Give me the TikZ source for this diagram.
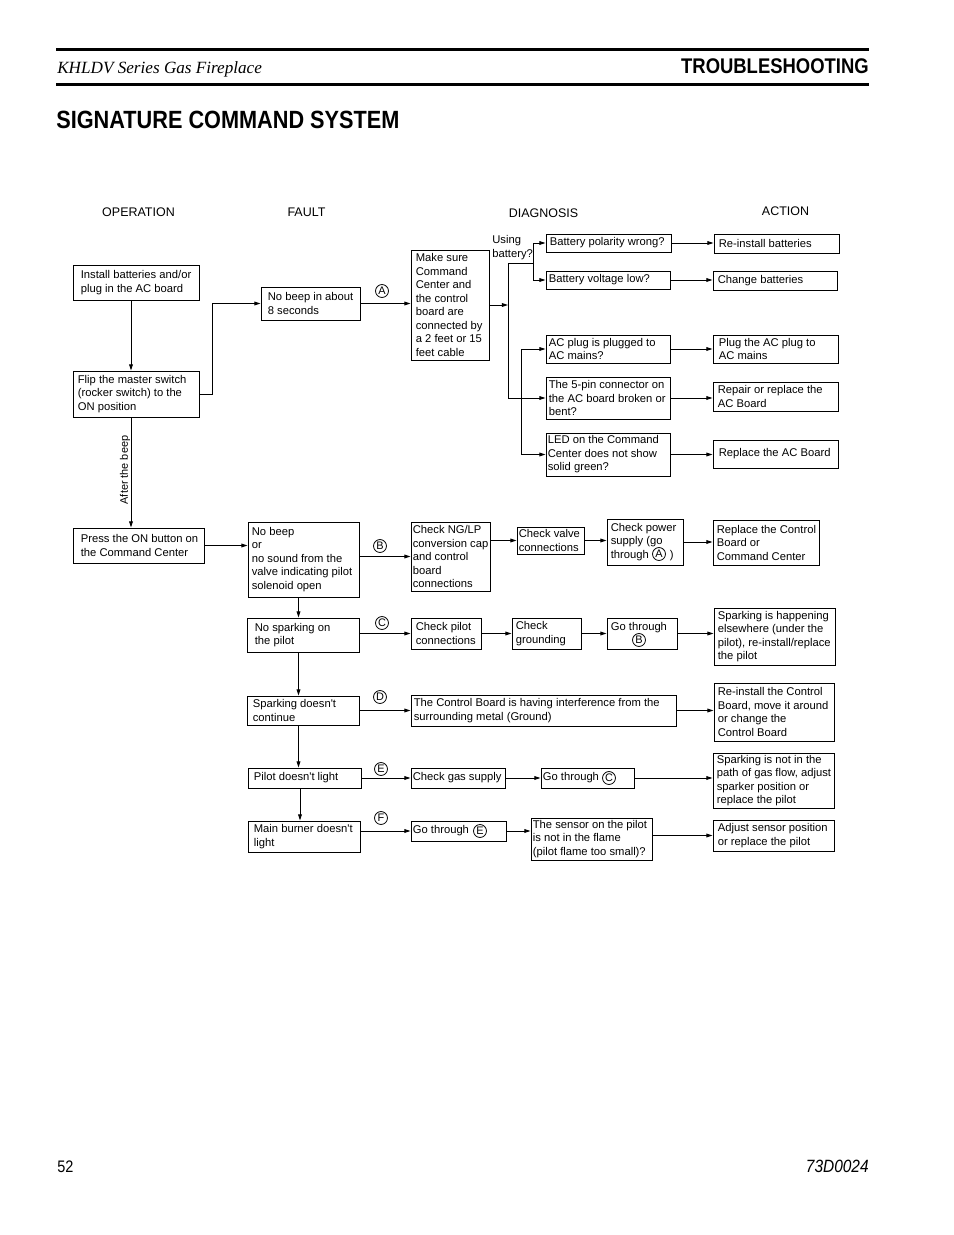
\documentclass[tikz,border=0pt]{standalone}
\usepackage{fontspec}
\newfontfamily\lsans{Liberation Sans}
\newfontfamily\lserif{Liberation Serif}
\newfontfamily\lcond[FakeStretch=0.87]{Liberation Sans}
\usetikzlibrary{arrows.meta,calc}
\def\pxu{0.6415}
\tikzset{
 bx/.style={draw, line width=0.6pt, inner sep=0pt, rectangle},
 tx/.style={inner sep=0pt, align=left, font=\lsans\fontsize{7.2}{8.66}\selectfont},
 arr/.style={line width=0.6pt, -{Triangle[length=4pt,width=2.4pt]}},
 ln/.style={line width=0.6pt},
 cl/.style={draw, circle, line width=0.5pt, inner sep=0pt, minimum size=8.3pt, font=\lsans\fontsize{7}{8}\selectfont},
 hd/.style={inner sep=0pt, font=\lsans\fontsize{8}{9.6}\selectfont},
}
\newcommand\mybox[7]{%
 \pgfmathsetmacro\bw{(#4-#2)*\pxu}%
 \pgfmathsetmacro\bh{(#5-#3)*\pxu}%
 \pgfmathsetmacro\bi{#6*\pxu}%
 \node[bx, minimum width=\bw pt, minimum height=\bh pt] (#1) at ({(#2+#4)/2},{(#3+#5)/2}) {};
 \node[tx, anchor=west] (#1-t) at ([xshift=\bi pt]#1.west) {#7};}
\begin{document}
\begin{tikzpicture}[x=0.6415pt,y=-0.6415pt]
\useasboundingbox (0,0) rectangle (954,1235);
\fill[white] (0,0) rectangle (954,1235);
% header
\draw[line width=2.2pt] (56,49.5) -- (869,49.5);
\node[anchor=base west, inner sep=0pt, font=\lserif\itshape\fontsize{11}{13}\selectfont] (hdl) at (57,73) {KHLDV Series Gas Fireplace};
\node[anchor=base east, inner sep=0pt, font=\lcond\bfseries\fontsize{13.6}{16}\selectfont] (hdr) at (869,73) {TROUBLESHOOTING};
\draw[line width=2pt] (56,84.5) -- (869,84.5);
\node[anchor=base west, inner sep=0pt, font=\lcond\bfseries\fontsize{16}{19}\selectfont] (title) at (56,128) {SIGNATURE COMMAND SYSTEM};
\node[anchor=base west, inner sep=0pt, font=\lcond\fontsize{10.7}{12}\selectfont] (pg) at (57,1172) {52};
\node[anchor=base east, inner sep=0pt, font=\lcond\itshape\fontsize{11.4}{13}\selectfont] (doc) at (869,1172) {73D0024};
% column heads
\node[hd] (hop) at (138.5,212) {OPERATION};
\node[hd] (hfa) at (306.5,212) {FAULT};
\node[hd] (hdi) at (543.5,213) {DIAGNOSIS};
\node[hd] (hac) at (785.5,211) {ACTION};
% boxes
\mybox{install}{73}{265}{199}{300}{8}{Install batteries and/or\\plug in the AC board}
\mybox{flip}{73}{371}{199}{417}{5}{Flip the master switch\\(rocker switch) to the\\ON position}
\mybox{press}{73}{528}{204}{563}{8}{Press the ON button on\\the Command Center}
\mybox{nobeep}{261}{287}{360}{320}{7}{No beep in about\\8 seconds}
\mybox{mk}{411}{250}{489}{360}{5}{Make sure\\Command\\Center and\\the control\\board are\\connected by\\a 2 feet or 15\\feet cable}
\mybox{pol}{546}{234}{671}{252}{4}{Battery polarity wrong?}
\mybox{volt}{546}{271}{670}{289}{3}{Battery voltage low?}
\mybox{acplug}{546}{335}{670}{363}{3}{AC plug is plugged to\\AC mains?}
\mybox{fivepin}{546}{377}{670}{419}{3}{The 5-pin connector on\\the AC board broken or\\bent?}
\mybox{led}{546}{433}{670}{476}{2}{LED on the Command\\Center does not show\\solid green?}
\mybox{reinst}{714}{234}{839}{253}{5}{Re-install batteries}
\mybox{change}{713}{271}{837}{290}{5}{Change batteries}
\mybox{plugac}{713}{335}{838}{363}{6}{Plug the AC plug to\\AC mains}
\mybox{repair}{713}{382}{838}{411}{5}{Repair or replace the\\AC Board}
\mybox{replAC}{713}{440}{838}{468}{6}{Replace the AC Board}
\mybox{nbtwo}{248}{522}{359}{597}{4}{No beep\\or\\no sound from the\\valve indicating pilot\\solenoid open}
\mybox{ng}{411}{522}{490}{591}{2}{Check NG/LP\\conversion cap\\and control\\board\\connections}
\mybox{valve}{517}{527}{584}{554}{2}{Check valve\\connections}
\mybox{power}{607}{519}{683}{565}{4}{Check power\\supply (go\\through\hspace{13.5pt})}
\mybox{replCtrl}{713}{520}{819}{565}{4}{Replace the Control\\Board or\\Command Center}
\mybox{nosp}{247}{618}{359}{652}{8}{No sparking on\\the pilot}
\mybox{pilotc}{411}{618}{481}{649}{5}{Check pilot\\connections}
\mybox{ground}{512}{618}{581}{649}{4}{Check\\grounding}
\mybox{goB}{607}{618}{677}{649}{4}{Go through\\\mbox{}}
\mybox{sparkH}{714}{608}{835}{665}{4}{Sparking is happening\\elsewhere (under the\\pilot), re-install/replace\\the pilot}
\mybox{spark}{247}{696}{359}{725}{6}{Sparking doesn't\\continue}
\mybox{dbox}{411}{695}{676}{726}{3}{The Control Board is having interference from the\\surrounding metal (Ground)}
\mybox{reinstC}{714}{683}{834}{741}{4}{Re-install the Control\\Board, move it around\\or change the\\Control Board}
\mybox{pilot}{248}{768}{361}{788}{6}{Pilot doesn't light}
\mybox{gas}{411}{768}{505}{788}{2}{Check gas supply}
\mybox{goC}{541}{768}{634}{788}{2}{Go through}
\mybox{sparkNot}{713}{753}{834}{808}{4}{Sparking is not in the\\path of gas flow, adjust\\sparker position or\\replace the pilot}
\mybox{main}{248}{821}{360}{852}{6}{Main burner doesn't\\light}
\mybox{goE}{411}{821}{506}{841}{2}{Go through}
\mybox{sensor}{531}{818}{652}{860}{2}{The sensor on the pilot\\is not in the flame\\(pilot flame too small)?}
\mybox{adjust}{713}{820}{834}{851}{5}{Adjust sensor position\\or replace the pilot}
% labels
\node[tx, anchor=west] (ub) at (492,247.5) {Using\\battery?};
\node[tx, rotate=90, font=\lsans\fontsize{7}{8}\selectfont] (ab) at (125,470) {After the beep};
\node[cl] (cA) at (382,291) {A};
\node[cl] (cB) at (380,546) {B};
\node[cl] (cC) at (382,623) {C};
\node[cl] (cD) at (380,697) {D};
\node[cl] (cE) at (381,769) {E};
\node[cl] (cF) at (381,818) {F};
\node[cl] (cAtwo) at (659,554) {A};
\node[cl] (cBtwo) at (639,640) {B};
\node[cl] (cCtwo) at (609,778) {C};
\node[cl] (cEtwo) at (480,831) {E};
% connectors
\coordinate (c1) at (131,0);
\coordinate (c2) at (298.5,0);
\coordinate (c3) at (300,0);
\coordinate (b1) at (508,263);
\coordinate (v1) at (533,0);
\coordinate (v2) at (521,0);
\draw[arr] (install.south -| c1) -- (flip.north -| c1);
\draw[arr] (flip.south -| c1) -- (press.north -| c1);
\draw[arr] (flip.east) -- ++(13,0) |- (nobeep.west);
\draw[arr] (nobeep.east) -- (mk.west |- nobeep.east);
\draw[arr] (mk.east) -- (mk.east -| b1);
\draw[ln] (b1) -- (b1 |- fivepin.west);
\draw[arr] (b1 |- fivepin.west) -- (fivepin.west);
\draw[ln] (b1) -- (b1 -| v1);
\draw[ln] (pol.west -| v1) -- (volt.west -| v1);
\draw[arr] (pol.west -| v1) -- (pol.west);
\draw[arr] (volt.west -| v1) -- (volt.west);
\draw[ln] (acplug.west -| v2) -- (led.west -| v2);
\draw[arr] (acplug.west -| v2) -- (acplug.west);
\draw[arr] (led.west -| v2) -- (led.west);
\draw[arr] (pol.east) -- (reinst.west |- pol.east);
\draw[arr] (volt.east) -- (change.west |- volt.east);
\draw[arr] (acplug.east) -- (plugac.west |- acplug.east);
\draw[arr] (fivepin.east) -- (repair.west |- fivepin.east);
\draw[arr] (led.east) -- (replAC.west |- led.east);
\draw[arr] (press.east) -- (nbtwo.west |- press.east);
\draw[arr] (nbtwo.east |- ng.west) -- (ng.west);
\draw[arr] (ng.east |- valve.west) -- (valve.west);
\draw[arr] (valve.east) -- (power.west |- valve.east);
\draw[arr] (power.east) -- (replCtrl.west |- power.east);
\draw[arr] (nbtwo.south -| c2) -- (nosp.north -| c2);
\draw[arr] (nosp.south -| c2) -- (spark.north -| c2);
\draw[arr] (spark.south -| c2) -- (pilot.north -| c2);
\draw[arr] (pilot.south -| c3) -- (main.north -| c3);
\draw[arr] (nosp.east |- pilotc.west) -- (pilotc.west);
\draw[arr] (pilotc.east) -- (ground.west |- pilotc.east);
\draw[arr] (ground.east) -- (goB.west |- ground.east);
\draw[arr] (goB.east) -- (sparkH.west |- goB.east);
\draw[arr] (spark.east) -- (dbox.west |- spark.east);
\draw[arr] (dbox.east) -- (reinstC.west |- dbox.east);
\draw[arr] (pilot.east) -- (gas.west |- pilot.east);
\draw[arr] (gas.east) -- (goC.west |- gas.east);
\draw[arr] (goC.east) -- (sparkNot.west |- goC.east);
\draw[arr] (main.east |- goE.west) -- (goE.west);
\draw[arr] (goE.east) -- (sensor.west |- goE.east);
\draw[arr] (sensor.east |- adjust.west) -- (adjust.west);
\end{tikzpicture}
\end{document}
